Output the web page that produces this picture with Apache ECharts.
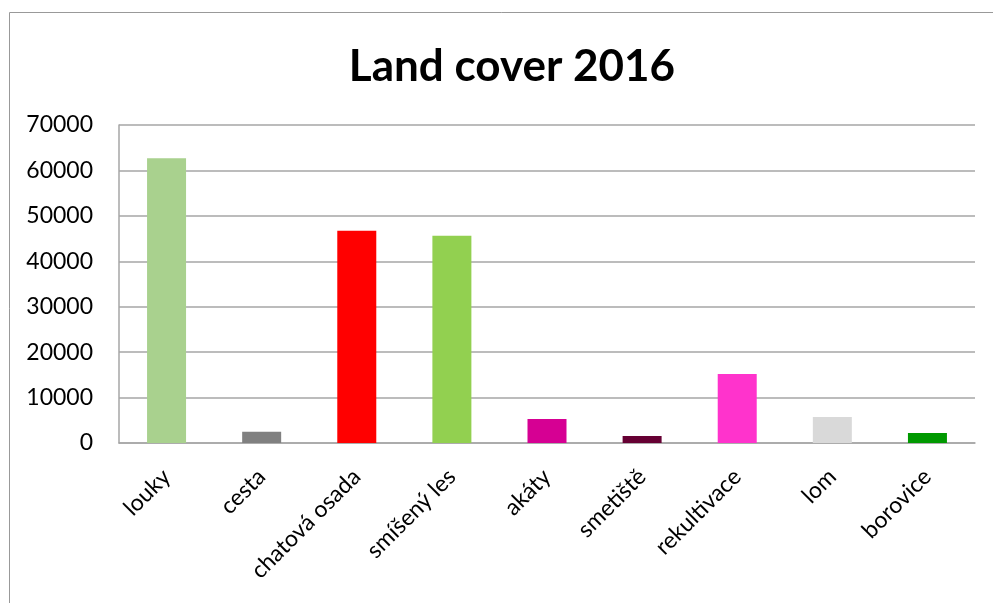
<!DOCTYPE html>
<html>
<head>
<meta charset="utf-8">
<script src="https://cdn.jsdelivr.net/npm/echarts@6/dist/echarts.min.js"></script>
<style>
  html, body { margin: 0; padding: 0; background: #fff; }
  #chart { width: 993px; height: 603px; }
</style>
</head>
<body>
<div id="chart"></div>
<script>
var categories = ["louky", "cesta", "chatová osada", "smíšený les", "akáty", "smetiště", "rekultivace", "lom", "borovice"];
var values = [62700, 2450, 46700, 45600, 5300, 1550, 15200, 5750, 2200];
var colors = ["#a9d18e", "#808080", "#ff0000", "#92d050", "#d60093", "#660033", "#ff33cc", "#d9d9d9", "#009900"];

var myChart = echarts.init(document.getElementById("chart"));

var option = {
  animation: false,
  title: {
    text: "Land cover 2016",
    left: 507,
    top: 40,
    textAlign: "center",
    textStyle: { fontFamily: "Lato", fontWeight: "bold", fontSize: 44, color: "#000" }
  },
  graphic: [{
    type: "rect",
    shape: { x: 9.5, y: 12.5, width: 1000, height: 1000 },
    style: { fill: null, stroke: "#999", lineWidth: 1 },
    silent: true
  }],
  grid: { left: 119, right: 18, top: 125, bottom: 160 },
  xAxis: {
    type: "category",
    data: categories,
    axisLine: { lineStyle: { color: "#a6a6a6", width: 1.5 } },
    axisTick: { show: false },
    axisLabel: {
      rotate: 45,
      interval: 0,
      margin: 30,
      fontFamily: "Lato",
      fontSize: 23,
      color: "#000"
    }
  },
  yAxis: {
    type: "value",
    min: 0,
    max: 70000,
    interval: 10000,
    axisLine: { show: true, lineStyle: { color: "#a6a6a6", width: 1.5 } },
    axisTick: { show: false },
    splitLine: { lineStyle: { color: "#a6a6a6", width: 1.5 } },
    axisLabel: {
      fontFamily: "Lato",
      fontSize: 23,
      color: "#000",
      margin: 26,
      formatter: function (v) { return String(v); }
    }
  },
  series: [{
    type: "bar",
    barWidth: 39,
    data: values.map(function (v, i) {
      return { value: v, itemStyle: { color: colors[i] } };
    })
  }]
};

myChart.setOption(option);
</script>
</body>
</html>
